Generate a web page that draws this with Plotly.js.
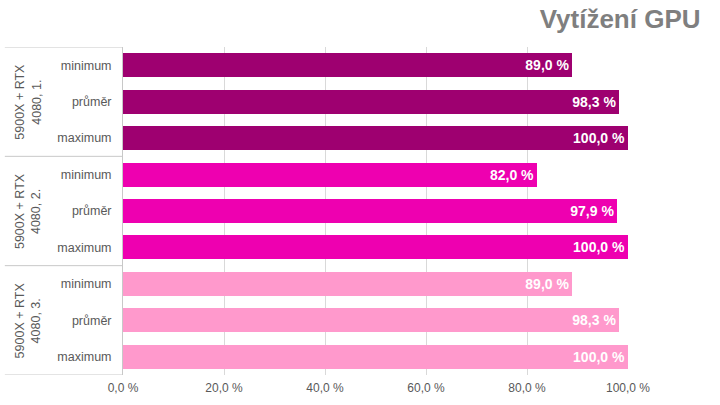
<!DOCTYPE html>
<html>
<head>
<meta charset="utf-8">
<script src="https://cdn.plot.ly/plotly-3.0.1.min.js"></script>
<style>html,body{margin:0;padding:0;background:#fff;}#chart{width:720px;height:405px;}</style>
</head>
<body>
<div id="chart"></div>
<script>
const groups = ["5900X + RTX<br>4080, 1.", "5900X + RTX<br>4080, 2.", "5900X + RTX<br>4080, 3."];
const items = ["minimum", "průměr", "maximum"];
const values1 = [89.0, 98.3, 100.0];
const values2 = [82.0, 97.9, 100.0];
const values3 = [89.0, 98.3, 100.0];
const allValues = [values1, values2, values3];
const colors = ["#9E0070", "#EE00B0", "#FF99CC"];
const xTicks = [0, 20, 40, 60, 80, 100];
const xTickText = ["0,0 %", "20,0 %", "40,0 %", "60,0 %", "80,0 %", "100,0 %"];

const traces = allValues.map((vals, g) => ({
  type: "bar",
  orientation: "h",
  x: vals,
  y: items.map((_, i) => g * items.length + i),
  width: 0.66,
  marker: {color: colors[g]},
  texttemplate: "%{x:.1f} %",
  textposition: "inside",
  insidetextanchor: "end",
  constraintext: "none",
  textfont: {family: "Liberation Sans, Arial, sans-serif", size: 14, color: "#ffffff", weight: "bold"},
  hoverinfo: "none",
  showlegend: false
}));

const tickvals = [], ticktext = [];
groups.forEach((g, gi) => items.forEach((it, i) => { tickvals.push(gi * items.length + i); ticktext.push(it); }));

const shapes = [];
for (let k = 0; k <= groups.length; k++) {
  shapes.push({type: "line", xref: "paper", yref: "y", x0: -0.234, x1: 0, y0: k * items.length - 0.5, y1: k * items.length - 0.5,
    line: {color: "#c8c8c8", width: 1}});
}
const annotations = groups.map((g, gi) => ({
  xref: "paper", yref: "y", x: -0.188, y: gi * items.length + 1, text: g, textangle: -90,
  showarrow: false, xanchor: "center", yanchor: "middle",
  font: {family: "Liberation Sans, Arial, sans-serif", size: 12.5, color: "#595959"}
}));

const layout = {
  width: 720, height: 405,
  margin: {l: 123, r: 92, t: 47, b: 30},
  paper_bgcolor: "#ffffff", plot_bgcolor: "#ffffff",
  separators: ",.",
  bargap: 0,
  title: {text: "<b>Vytížení GPU</b>", x: 0.973, xanchor: "right", xref: "container", y: 0.975, yanchor: "top",
    font: {family: "Liberation Sans, Arial, sans-serif", size: 26, color: "#7f7f7f"}},
  xaxis: {range: [0, 100], tickvals: xTicks, ticktext: xTickText, ticklabelstandoff: 4,
    showgrid: true, gridcolor: "#d9d9d9", gridwidth: 1, zeroline: false, showline: false,
    tickfont: {family: "Liberation Sans, Arial, sans-serif", size: 12, color: "#595959"}, fixedrange: true},
  yaxis: {range: [8.5, -0.5], tickvals: tickvals, ticktext: ticktext, showgrid: false, zeroline: false,
    showline: true, linecolor: "#c8c8c8", linewidth: 1, ticks: "", ticklabelstandoff: 8,
    tickfont: {family: "Liberation Sans, Arial, sans-serif", size: 12.5, color: "#595959"}, fixedrange: true},
  shapes: shapes,
  annotations: annotations
};

Plotly.newPlot("chart", traces, layout, {displayModeBar: false, staticPlot: true});
</script>
</body>
</html>
